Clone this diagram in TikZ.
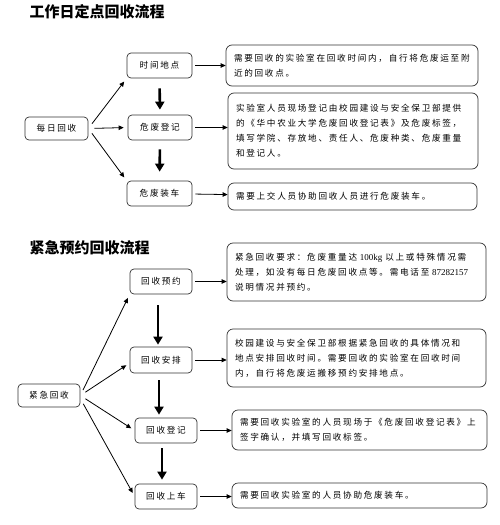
\documentclass[tikz,border=0pt]{standalone}
\usepackage{fontspec}
\usetikzlibrary{arrows.meta}
\newfontfamily\cjk[LetterSpace=20]{Noto Sans CJK SC}
\newfontfamily\cjktitle{Noto Sans CJK SC}
\newfontfamily\num{Liberation Serif}

\begin{document}
\begin{tikzpicture}[x=1pt,y=-1pt,>={Triangle[length=5pt,width=4.5pt]},
  stagebox/.style={draw=black!80,rounded corners=4pt,line width=0.7pt,inner sep=0pt,font=\cjk\fontsize{8.6}{15}\selectfont},
  descbox/.style={stagebox,inner xsep=8pt,align=left,rounded corners=6pt,font=\cjk\fontsize{8.6}{15}\selectfont},
  link/.style={->,line width=0.8pt,shorten <=6pt,shorten >=4pt},
  feed/.style={->,line width=0.8pt,shorten <=3pt},
  heavy/.style={line width=2.6pt,-{Triangle[length=8pt,width=9pt]},shorten <=10pt,shorten >=5pt}]
\useasboundingbox (0,0) rectangle (499,525);
% workday collection
\node[anchor=west,font=\cjktitle\bfseries\fontsize{15}{15}\selectfont] (title1) at (26,12) {工作日定点回收流程};
\node[stagebox,minimum width=63pt,minimum height=23pt] (daily) at (56.5,128.5) {每日回收};
\node[stagebox,minimum width=65pt,minimum height=25pt] (place) at (159.5,65.5) {时间地点};
\node[stagebox,minimum width=64pt,minimum height=25pt] (check) at (160,127.5) {危废登记};
\node[stagebox,minimum width=65pt,minimum height=25pt] (load) at (159.5,193.5) {危废装车};
\node[descbox,text width=236pt,minimum height=41pt] (dplace) at (352,65.5) {需要回收的实验室在回收时间内，自行将危废运至附\\近的回收点。};
\node[descbox,text width=234pt,minimum height=76pt] (dcheck) at (353,131) {实验室人员现场登记由校园建设与安全保卫部提供\\的《华中农业大学危废回收登记表》及危废标签，\\填写学院、存放地、责任人、危废种类、危废重量\\和登记人。};
\node[descbox,text width=233pt,minimum height=27pt] (dload) at (352.5,196.5) {需要上交人员协助回收人员进行危废装车。};
\draw[link] (daily.east) -- (place.south west);
\draw[link] (daily.east) -- (check.west);
\draw[link] (daily.east) -- (load.north west);
\draw[heavy] (place.south) -- (check.north);
\draw[heavy,shorten <=9pt,shorten >=9pt] (check.south) -- (load.north);
\draw[feed] (place) -- (dplace);
\draw[feed] (check) -- (dcheck.west |- check);
\draw[feed] (load) -- (dload);
% emergency collection
\node[anchor=west,font=\cjktitle\bfseries\fontsize{15}{15}\selectfont] (title2) at (26,248) {紧急预约回收流程};
\node[stagebox,minimum width=62pt,minimum height=23pt] (urgent) at (49,395.5) {紧急回收};
\node[stagebox,minimum width=62pt,minimum height=25pt] (book) at (161,281.5) {回收预约};
\node[stagebox,minimum width=62pt,minimum height=26pt] (plan) at (161,360) {回收安排};
\node[stagebox,minimum width=62pt,minimum height=25pt] (sign) at (166,430.5) {回收登记};
\node[stagebox,minimum width=62pt,minimum height=25pt] (truck) at (166,496.5) {回收上车};
\node[descbox,text width=243pt,minimum height=58pt] (dbook) at (356.5,272) {紧急回收要求：危废重量达 {\num\fontsize{9}{15}\selectfont 100kg} 以上或特殊情况需\\处理，如没有每日危废回收点等。需电话至 {\num\fontsize{9}{15}\selectfont 87282157}\\说明情况并预约。};
\node[descbox,text width=243pt,minimum height=58pt] (dplan) at (356.5,358) {校园建设与安全保卫部根据紧急回收的具体情况和\\地点安排回收时间。需要回收的实验室在回收时间\\内，自行将危废运搬移预约安排地点。};
\node[descbox,text width=239pt,minimum height=40pt] (dsign) at (359.5,430) {需要回收实验室的人员现场于《危废回收登记表》上\\签字确认，并填写回收标签。};
\node[descbox,text width=239pt,minimum height=25pt] (dtruck) at (359.5,495.5) {需要回收实验室的人员协助危废装车。};
\draw[link] (urgent.east) -- (book.south west);
\draw[link] (urgent.east) -- ([yshift=-3pt]plan.west);
\draw[link] (urgent.east) -- (sign.west);
\draw[link] ([yshift=-3pt]urgent.east) -- (truck.west);
\draw[heavy,shorten <=11pt,shorten >=2pt] ([xshift=-3pt]book.south) -- ([xshift=-3pt]book.south |- plan.north);
\draw[heavy,shorten <=7pt,shorten >=3pt] ([xshift=-2pt]plan.south) -- ([xshift=-2pt]plan.south |- sign.north);
\draw[heavy,shorten <=5pt,shorten >=4pt] ([xshift=-4pt]sign.south) -- ([xshift=-4pt]sign.south |- truck.north);
\draw[feed] (book) -- (dbook.west |- book);
\draw[feed] (plan) -- (dplan.west |- plan);
\draw[feed] (sign) -- (dsign.west |- sign);
\draw[feed] (truck) -- (dtruck.west |- truck);
\end{tikzpicture}
\end{document}
